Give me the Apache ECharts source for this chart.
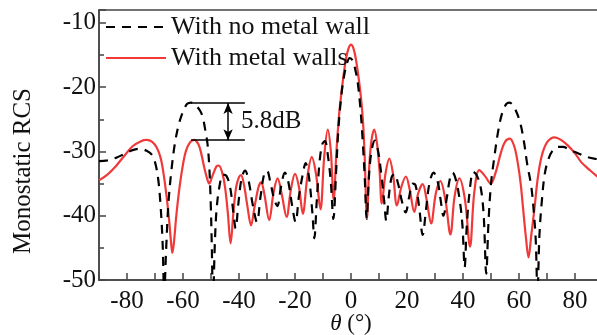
<!DOCTYPE html>
<html>
<head>
<meta charset="utf-8">
<script src="https://cdn.jsdelivr.net/npm/echarts@6/dist/echarts.min.js"></script>
<style>html,body{margin:0;padding:0;background:#fff}#c{width:597px;height:335px}</style>
</head>
<body>
<div id="c"></div>
<script>
// ---- data ----
const noWallTheta = [-90,-87,-84,-81,-78,-75.5,-73,-71,-69.8,-68.8,-68,-67.3,-66.7,-66,-65.2,-64,-62.8,-61.5,-60,-58.5,-57,-55.5,-54,-53,-52,-51.2,-50.6,-50.1,-49.7,-49.3,-48.6,-48,-47,-45.7,-44.5,-43.2,-42,-41.2,-40.2,-39,-37.8,-36.6,-35,-33.6,-32.3,-31,-30,-28.8,-27.4,-26.3,-25,-23.6,-22.5,-21,-19.8,-18.6,-17.2,-16.2,-15,-13.8,-13.1,-12.2,-11.2,-10.2,-9.3,-8.2,-7.2,-6.3,-5.3,-4.5,-3.5,-2.5,-1.5,-0.5,0.5,1.5,2.5,3.4,4.2,4.9,5.6,6.4,7.3,8.5,9.7,10.8,11.8,12.6,13.5,14.5,15.5,16.8,18.2,19.5,20.8,22,23,24.3,25.6,26.8,28,29.5,31,32,33,34.3,35.3,36.3,37.5,38.8,39.8,40.6,41.3,42.3,43.7,45,46.4,47.4,48.3,49.1,50,51,52.5,54,55.5,56.5,58,60.2,61.7,62.9,64.4,65.4,66,66.6,67.3,68.2,69.2,70.5,72.1,74,75.7,78,80,84.6,88,90];
const noWallRCS = [-31.5,-31.4,-31.0,-30.4,-29.8,-29.6,-29.9,-30.6,-32.0,-34.5,-38.5,-44,-52,-45,-38,-32.4,-28.5,-25.8,-23.8,-22.6,-22.4,-22.8,-23.6,-24.6,-26.8,-29.0,-32.5,-38,-45,-53,-44,-39,-35.5,-33.6,-33.8,-35.5,-39.5,-42,-38,-34,-33.0,-34.5,-38.5,-41.0,-37.0,-33.5,-33.0,-34.8,-37.5,-38.5,-35.5,-33.3,-34.5,-38.5,-41.0,-37.0,-33.5,-31.8,-34,-39.5,-43.5,-37.5,-31.5,-28.8,-28.4,-30.8,-34.8,-40.5,-33,-26.5,-21.5,-18.3,-16.4,-15.5,-15.8,-17.2,-19.6,-23.5,-28.5,-34,-40.5,-34,-30,-28.3,-30.0,-33.5,-37.5,-40.8,-37,-34,-33.5,-35,-37.8,-39.5,-37,-35,-35.2,-38.5,-43.0,-39,-35,-33.3,-34.8,-37.5,-40,-37,-34.3,-33.3,-34.5,-37.5,-41.5,-48,-42,-36.5,-33.2,-33.8,-35.8,-40,-49,-41,-35,-31.5,-27,-24.0,-22.6,-22.4,-22.9,-25.2,-28.3,-31.9,-35.5,-40,-44,-52,-43,-37.5,-33.5,-31.2,-29.8,-29.3,-29.3,-29.7,-30.1,-30.9,-31.2,-31.3];

const wallTheta = [-90,-87,-84,-81,-78,-75,-73,-71,-69.4,-68,-67,-66,-65,-64.3,-63.8,-63.2,-62.5,-61.5,-60.3,-59,-57.5,-56,-54.5,-53.5,-52.3,-51.2,-50.6,-49.5,-48,-47.2,-46,-45,-44,-43,-42,-41,-40,-39.3,-38.3,-37,-35.7,-34.4,-33,-32.1,-31,-29.2,-27.7,-26.2,-24.8,-23,-21.5,-20,-18.6,-17.2,-15.6,-14,-12.5,-10.9,-9.6,-8.3,-7.2,-6.2,-5.2,-4.3,-3.6,-2.7,-1.8,-0.9,0,0.9,1.8,2.7,3.6,4.3,4.9,5.7,6.5,7.3,8.3,9.3,10.2,11,12.3,13.7,15,16.4,18,19.6,21,22.6,24,25.6,27,28.6,30.3,31.9,33.7,35.5,37,38.7,40.7,42.5,44,45.8,47.8,49.9,51.5,53.6,55,56.7,58.3,59.6,60.6,61.4,62.5,63.4,64.4,65.6,66.6,68,70,72.7,75,77.5,80,82.3,85,88,90];
const wallRCS = [-34.5,-33.6,-32.3,-30.7,-29.2,-28.4,-28.2,-28.5,-29.4,-31.0,-33.3,-36.5,-40.5,-44.0,-45.8,-44.0,-40.5,-36.5,-32.8,-30.0,-28.6,-28.2,-28.9,-30.3,-32.7,-34.5,-35.0,-33.8,-32.3,-32.2,-33.3,-35.5,-39.5,-44.3,-39.5,-35.5,-34.0,-33.7,-35.0,-38.5,-41.5,-38.5,-35.5,-34.8,-36.5,-40.7,-36.5,-34.2,-36.5,-40.2,-36.0,-33.5,-35.5,-39.7,-34.0,-30.9,-33.5,-39.0,-31.0,-26.6,-30.0,-37.5,-30,-24.5,-21.6,-18.3,-15.6,-14.0,-13.4,-14.0,-15.8,-18.5,-21.8,-25.5,-31.0,-40.4,-32.5,-28.3,-26.6,-28.8,-33.0,-38.1,-33.5,-31.1,-33.5,-38.4,-35.5,-33.9,-36.0,-39.4,-36.5,-35.1,-37.5,-41.2,-36.5,-34.6,-37.5,-42.9,-37.0,-34.2,-37.5,-44.8,-36.5,-32.9,-33.8,-35.0,-33.5,-30.1,-28.5,-28.0,-29.2,-31.9,-35.0,-38.6,-43.5,-46.5,-43.0,-38.6,-34.5,-30.9,-28.6,-27.8,-28.2,-29.1,-30.3,-31.7,-32.8,-33.9,-34.4];

const seriesNames = ['With no metal wall', 'With metal walls'];
const yTicks = [-50, -40, -30, -20, -10];
const xTicks = [-80, -60, -40, -20, 0, 20, 40, 60, 80];
const yTitle = 'Monostatic RCS';
// annotation: peak levels (dB) and their difference
const annotLevels = [-22.45, -28.25];
const annotThetaRange = [-57.1, -37.9];
const annotArrowTheta = -43.9;
const annotText = '5.8dB';

const FONT = "'Liberation Serif','Times New Roman',serif";
const chart = echarts.init(document.getElementById('c'), null, {renderer: 'canvas'});

const pair = (xs, ys) => xs.map((x, i) => [x, ys[i]]);

chart.setOption({
  animation: false,
  backgroundColor: '#fff',
  grid: {left: 99, top: 10, width: 504, height: 270, outerBoundsMode: 'none', containLabel: false,
    show: true, borderColor: '#444', borderWidth: 1.5, backgroundColor: 'transparent'},
  legend: [
    {data: [seriesNames[0]], left: 100, top: 9, itemWidth: 60, itemHeight: 14, itemGap: 0,
     itemStyle: {opacity: 0},
     textStyle: {fontFamily: FONT, fontSize: 26, color: '#111'}},
    {data: [seriesNames[1]], left: 100, top: 40, itemWidth: 60, itemHeight: 14, itemGap: 0,
     itemStyle: {opacity: 0},
     textStyle: {fontFamily: FONT, fontSize: 26, color: '#111'}}
  ],
  xAxis: {
    type: 'value', min: -90, max: 90, interval: 10,
    name: '{i|θ} (°)', nameLocation: 'middle', nameGap: 32, nameMoveOverlap: false,
    nameTextStyle: {fontFamily: FONT, fontSize: 23, color: '#111', verticalAlign: 'top',
      rich: {i: {fontFamily: FONT, fontSize: 23, fontStyle: 'italic', color: '#111'}}},
    axisLine: {show: true, onZero: false, lineStyle: {color: '#444', width: 1.5}},
    axisTick: {show: true, inside: true, length: 7, lineStyle: {color: '#444', width: 1.5}},
    splitLine: {show: false},
    axisLabel: {fontFamily: FONT, fontSize: 25, color: '#111', margin: 9,
      formatter: v => xTicks.includes(v) ? String(v) : ''}
  },
  yAxis: {
    type: 'value', min: -50, max: -8, interval: 10,
    axisLine: {show: true, onZero: false, lineStyle: {color: '#444', width: 1.5}},
    axisTick: {show: true, inside: true, length: 7, lineStyle: {color: '#444', width: 1.5}},
    minorTick: {show: true, splitNumber: 2, length: 5, lineStyle: {color: '#444', width: 1.5}},
    splitLine: {show: false},
    axisLabel: {fontFamily: FONT, fontSize: 25, color: '#111', margin: 3,
      formatter: v => yTicks.includes(v) ? String(v) : ''}
  },
  graphic: [{
    type: 'text', x: 23, y: 171, rotation: Math.PI / 2,
    style: {text: yTitle, font: "25px 'Liberation Serif','Times New Roman',serif", fill: '#111',
      textAlign: 'center', textVerticalAlign: 'middle'}
  }],
  series: [
    {
      name: seriesNames[1], type: 'line', z: 2, symbol: 'none', smooth: 0.35,
      data: pair(wallTheta, wallRCS),
      lineStyle: {color: '#f03a3a', width: 2.2}, itemStyle: {color: '#f03a3a'}
    },
    {
      name: seriesNames[0], type: 'line', z: 3, symbol: 'none', smooth: 0.35,
      data: pair(noWallTheta, noWallRCS),
      lineStyle: {color: '#000', width: 2.2, type: [9, 7]}, itemStyle: {color: '#000'},
      markLine: {
        silent: true, animation: false, symbol: 'none',
        lineStyle: {color: '#000', width: 1.5, type: 'solid'},
        label: {show: false},
        data: [
          [{coord: [annotThetaRange[0], annotLevels[0]]}, {coord: [annotThetaRange[1], annotLevels[0]]}],
          [{coord: [annotThetaRange[0], annotLevels[1]]}, {coord: [annotThetaRange[1], annotLevels[1]]}],
          [{coord: [annotArrowTheta, annotLevels[0]], symbol: 'arrow', symbolSize: [7, 11]},
           {coord: [annotArrowTheta, annotLevels[1]], symbol: 'arrow', symbolSize: [7, 11]}]
        ]
      },
      markPoint: {
        silent: true, symbol: 'circle', symbolSize: 0,
        data: [{coord: [annotArrowTheta + 4.6, (annotLevels[0] + annotLevels[1]) / 2]}],
        label: {show: true, position: 'right', distance: 0, formatter: annotText,
          fontFamily: FONT, fontSize: 25, color: '#111'}
      }
    }
  ]
});
</script>
</body>
</html>
